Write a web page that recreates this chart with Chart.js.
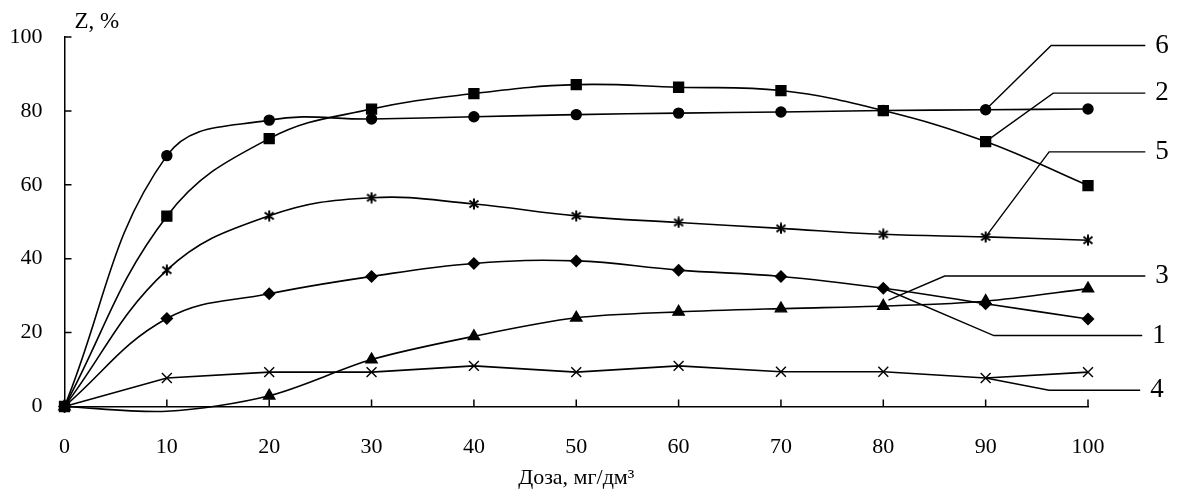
<!DOCTYPE html>
<html>
<head>
<meta charset="utf-8">
<script src="https://cdn.jsdelivr.net/npm/chart.js@4/dist/chart.umd.min.js"></script>
<style>
  html, body { margin: 0; padding: 0; background: #fff; }
  #wrap { width: 1187px; height: 499px; }
</style>
</head>
<body>
<div id="wrap"><canvas id="doseChart"></canvas></div>
<script>
// Dose, mg/dm3
const doses = [0, 10, 20, 30, 40, 50, 60, 70, 80, 90, 100];

// Z, % for each curve
const curve1 = [0, 23.8, 30.5, 35.2, 38.7, 39.4, 36.9, 35.2, 32.0, 27.8, 23.7];
const curve2 = [0, 51.5, 72.5, 80.5, 84.7, 87.1, 86.4, 85.5, 80.1, 71.7, 59.8];
// no measurement at 10 - the curve just sags a little below the axis there
const curve3 = [0, -1.3, 2.9, 12.7, 19.0, 24.0, 25.6, 26.5, 27.2, 28.5, 31.9];
const curve4 = [0, 7.7, 9.3, 9.3, 11.0, 9.3, 11.0, 9.4, 9.4, 7.7, 9.3];
const curve5 = [0, 36.9, 51.6, 56.5, 54.8, 51.6, 49.8, 48.2, 46.6, 45.9, 45.0];
const curve6 = [0, 67.9, 77.5, 77.8, 78.4, 79.0, 79.4, 79.7, 80.1, 80.3, 80.5];

const xTicks = [0, 10, 20, 30, 40, 50, 60, 70, 80, 90, 100];
const yTicks = [0, 20, 40, 60, 80, 100];

const FONT = '"Liberation Serif", "Times New Roman", serif';

function toPoints(values) {
    return values.map((v, i) => ({ x: doses[i], y: v }));
}

// asterisk marker: x with a vertical bar
function asteriskMarker() {
    const c = document.createElement('canvas');
    c.width = 12; c.height = 12;
    const g = c.getContext('2d');
    g.strokeStyle = '#000';
    g.lineWidth = 2;
    g.beginPath();
    g.moveTo(1.5, 2.5); g.lineTo(10.5, 9.5);
    g.moveTo(10.5, 2.5); g.lineTo(1.5, 9.5);
    g.moveTo(6, 0.5); g.lineTo(6, 11.5);
    g.stroke();
    return c;
}

function line(values, style, radius, tension, extra) {
    return Object.assign({
        data: toPoints(values),
        borderColor: '#000',
        backgroundColor: '#000',
        borderWidth: 1.6,
        pointStyle: style,
        pointRadius: radius,
        pointBorderWidth: 1.4,
        pointBackgroundColor: '#000',
        pointBorderColor: '#000',
        tension: tension,
        clip: false
    }, extra || {});
}

// callouts: [label, anchor x, anchor y, elbow x, elbow y, line end x] in data units
const callouts = [
    ['6', 90, curve6[9], 96.4, 97.7, 105.6],
    ['2', 90, curve2[9], 96.6, 84.8, 105.6],
    ['5', 90, curve5[9], 96.2, 68.9, 105.6],
    ['3', 80.5, 28.8, 86.0, 35.3, 105.6],
    ['1', 80, curve1[8], 90.8, 19.2, 105.3],
    ['4', 90, curve4[9], 96.2, 4.4, 105.1]
];

const decorations = {
    id: 'decorations',
    afterDraw(chart) {
        const { ctx, chartArea } = chart;
        const xs = chart.scales.x, ys = chart.scales.y;
        ctx.save();
        ctx.strokeStyle = '#000';
        ctx.lineWidth = 1.5;
        // inward tick marks
        ctx.beginPath();
        xTicks.forEach(v => {
            const px = xs.getPixelForValue(v);
            ctx.moveTo(px, chartArea.bottom);
            ctx.lineTo(px, chartArea.bottom - 7);
        });
        yTicks.forEach(v => {
            const py = ys.getPixelForValue(v);
            ctx.moveTo(chartArea.left, py);
            ctx.lineTo(chartArea.left + 7, py);
        });
        ctx.stroke();

        // leader lines with curve numbers
        ctx.lineWidth = 1.4;
        ctx.fillStyle = '#000';
        ctx.font = '27px ' + FONT;
        ctx.textBaseline = 'middle';
        ctx.textAlign = 'left';
        callouts.forEach(([label, ax, ay, ex, ey, endX]) => {
            const ey2 = ys.getPixelForValue(ey);
            ctx.beginPath();
            ctx.moveTo(xs.getPixelForValue(ax), ys.getPixelForValue(ay));
            ctx.lineTo(xs.getPixelForValue(ex), ey2);
            ctx.lineTo(xs.getPixelForValue(endX), ey2);
            ctx.stroke();
            ctx.fillText(label, xs.getPixelForValue(endX) + 10, ey2);
        });

        // y axis title
        ctx.font = '23px ' + FONT;
        ctx.fillText('Z, %', chartArea.left + 10, chartArea.top - 15);
        ctx.restore();
    }
};

new Chart(document.getElementById('doseChart'), {
    type: 'line',
    data: {
        datasets: [
            line(curve4, 'crossRot', 7, 0),
            line(curve3, 'triangle', 6.5, 0.3, { pointRadius: curve3.map((v, i) => i === 1 ? 0 : 6.5) }),
            line(curve1, 'rectRot', 5.5, 0.4),
            line(curve5, asteriskMarker(), 5, 0.4),
            line(curve6, 'circle', 5, 0.4),
            line(curve2, 'rect', 7, 0.4)
        ]
    },
    options: {
        responsive: true,
        maintainAspectRatio: false,
        animation: false,
        layout: { padding: { left: 0, right: 99, top: 37, bottom: 0 } },
        plugins: {
            legend: { display: false },
            tooltip: { enabled: false }
        },
        scales: {
            x: {
                type: 'linear',
                min: 0,
                max: 100,
                afterFit: s => { s.height = 92.5; },
                afterBuildTicks: s => { s.ticks = xTicks.map(v => ({ value: v })); },
                grid: { display: false, drawTicks: false },
                border: { display: true, color: '#000', width: 1.5 },
                ticks: { color: '#000', padding: 28, maxRotation: 0, font: { family: FONT, size: 22 } },
                title: {
                    display: true,
                    text: 'Доза, мг/дм³',
                    color: '#000',
                    padding: { top: 0, bottom: 8 },
                    font: { family: FONT, size: 22 }
                }
            },
            y: {
                min: 0,
                max: 100,
                afterFit: s => { s.width = 64.5; },
                afterBuildTicks: s => { s.ticks = yTicks.map(v => ({ value: v })); },
                grid: { display: false, drawTicks: false },
                border: { display: true, color: '#000', width: 1.5 },
                ticks: { color: '#000', padding: 22, font: { family: FONT, size: 22 } }
            }
        }
    },
    plugins: [decorations]
});
</script>
</body>
</html>
